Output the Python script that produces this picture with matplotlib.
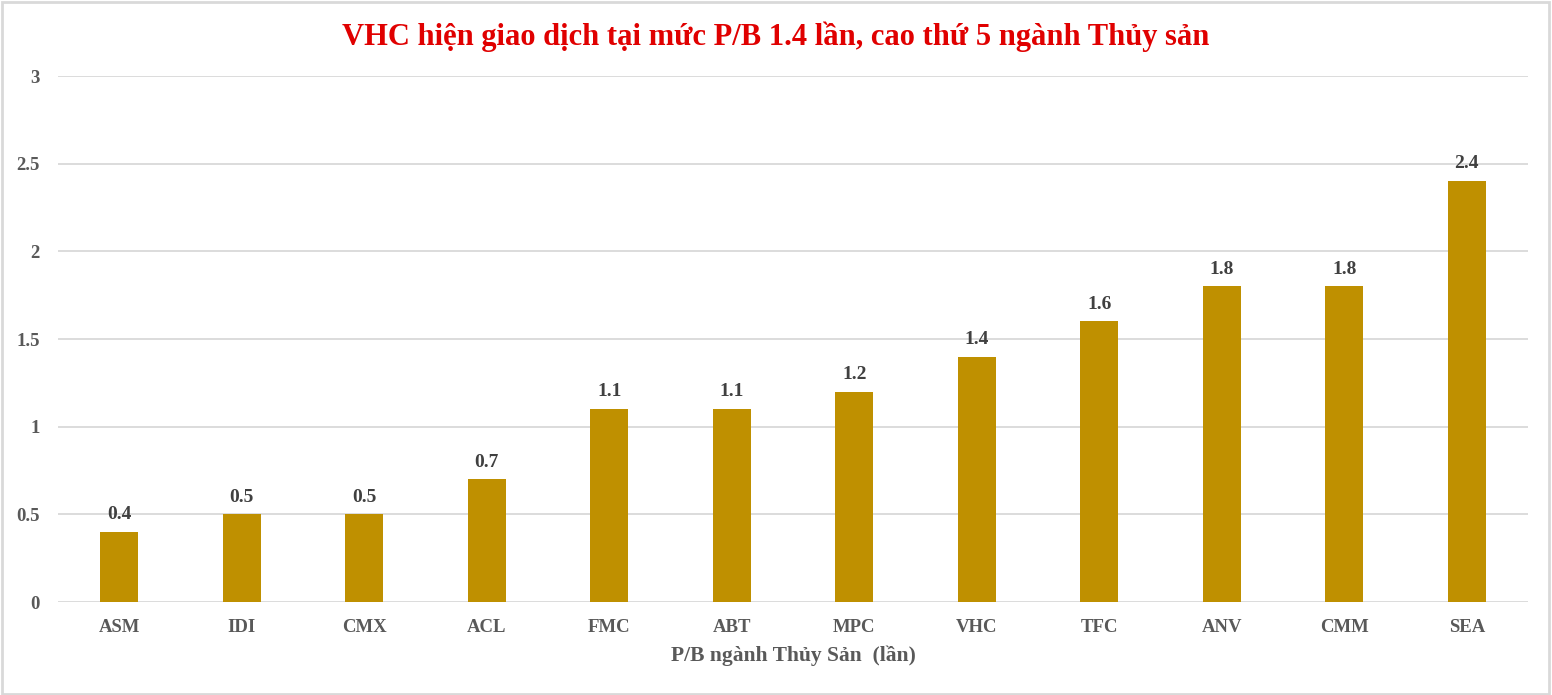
import matplotlib.pyplot as plt
from matplotlib.patches import Rectangle

# P/B of seafood stocks
tickers = ['ASM', 'IDI', 'CMX', 'ACL', 'FMC', 'ABT', 'MPC', 'VHC', 'TFC', 'ANV', 'CMM', 'SEA']
pb_values = [0.4, 0.5, 0.5, 0.7, 1.1, 1.1, 1.2, 1.4, 1.6, 1.8, 1.8, 2.4]
y_ticks = [0, 0.5, 1, 1.5, 2, 2.5, 3]
y_tick_labels = ['0', '0.5', '1', '1.5', '2', '2.5', '3']

plt.rcParams['font.family'] = ['Liberation Serif', 'DejaVu Serif']
plt.rcParams['font.weight'] = 'bold'

fig = plt.figure(figsize=(15.52, 6.95), dpi=100)
ax = fig.add_axes([0.0374, 0.1338, 0.9471, 0.7568])

x = list(range(len(tickers)))
bars = ax.bar(x, pb_values, width=0.31, color='#BF9000', zorder=3)

for xi, v in zip(x, pb_values):
    ax.text(xi, v + 0.05, f'{v:g}', ha='center', va='bottom', fontsize=14,
            fontweight='bold', color='#404040')

ax.set_xlim(-0.5, len(tickers) - 0.5)
ax.set_ylim(0, 3)
ax.set_yticks(y_ticks)
ax.set_yticklabels(y_tick_labels)
ax.set_xticks(x)
ax.set_xticklabels(tickers)
ax.tick_params(axis='both', length=0, labelsize=13.5, labelcolor='#595959')
ax.tick_params(axis='x', pad=12)
ax.tick_params(axis='y', pad=13)
ax.grid(axis='y', color='#D9D9D9', linewidth=1.3, zorder=0)
for s in ax.spines.values():
    s.set_visible(False)

ax.set_xlabel('P/B ngành Thủy Sản  (lần)', fontsize=15.5, color='#595959',
              fontweight='bold', labelpad=7)
fig.text(0.5, 0.947, 'VHC hiện giao dịch tại mức P/B 1.4 lần, cao thứ 5 ngành Thủy sản',
         ha='center', va='center', fontsize=22, fontweight='bold', color='#E00000')

fig.patches.append(Rectangle((0.001, 0.002), 0.997, 0.995, transform=fig.transFigure,
                             fill=False, edgecolor='#D9D9D9', linewidth=2))

fig.savefig('out.png', dpi=100)
